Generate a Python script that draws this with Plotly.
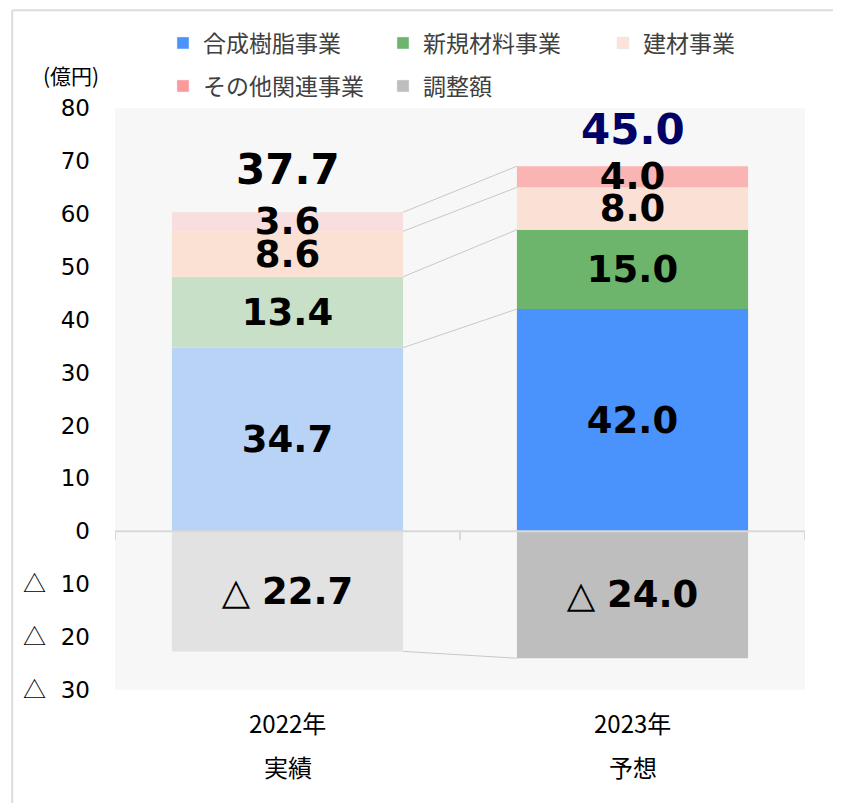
import plotly.graph_objects as go

# values (億円)
years = ["2022年", "2023年"]
periods = ["実績", "予想"]
resin = [34.7, 42.0]
new_materials = [13.4, 15.0]
building = [8.6, 8.0]
others = [3.6, 4.0]
adjustment = [-22.7, -24.0]
totals = [37.7, 45.0]

segments = [
    ("合成樹脂事業", resin, "#4a93fc", "legend"),
    ("新規材料事業", new_materials, "#6db56d", "legend"),
    ("建材事業", building, "#fae0d5", "legend"),
    ("その他関連事業", others, "#fbb4b4", "legend2"),
    ("調整額", adjustment, "#bebebe", "legend2"),
]
faded = {"#4a93fc": "#b9d3f7", "#6db56d": "#c8e0c8", "#fae0d5": "#fbe0d4",
         "#fbb4b4": "#f8dede", "#bebebe": "#e2e2e2"}
legend_colors = {"#fae0d5": "#fbe3da", "#fbb4b4": "#fe9999"}

BAR_W = 0.67
LABEL_FONT = dict(family="DejaVu Sans", size=37, color="black")
fig = go.Figure()

for name, vals, color, leg in segments:
    for i, v in enumerate(vals):
        if v < 0:
            label = f"△ <b>{abs(v):.1f}</b>"
        else:
            label = f"<b>{v:.1f}</b>"
        fig.add_trace(go.Bar(
            x=[i], y=[v], width=BAR_W, name=name, legendgroup=name,
            showlegend=False,
            marker=dict(color=faded[color] if i == 0 else color, line=dict(width=0)),
            text=[label], textposition="inside", insidetextanchor="middle",
            textangle=0, constraintext="none",
            insidetextfont=LABEL_FONT,
            hoverinfo="skip",
        ))
    # legend-only entry
    fig.add_trace(go.Bar(
        x=[None], y=[None], name=name, legendgroup=name, legend=leg,
        marker=dict(color=legend_colors.get(color, color)),
    ))

# connector lines between the stacks
cum0, cum1 = 0, 0
for name, vals, color, leg in segments[:-1]:
    cum0 += vals[0]
    cum1 += vals[1]
    fig.add_shape(type="line", x0=BAR_W / 2, x1=1 - BAR_W / 2, y0=cum0, y1=cum1,
                  line=dict(color="#c8c8c8", width=1))
fig.add_shape(type="line", x0=BAR_W / 2, x1=1 - BAR_W / 2, y0=adjustment[0], y1=adjustment[1],
              line=dict(color="#c8c8c8", width=1))

# zero axis line with ticks
fig.add_shape(type="line", xref="x", x0=-0.5, x1=1.5, y0=0, y1=0,
              line=dict(color="#d9d9d9", width=2))
for xt in [-0.5, 0.5, 1.5]:
    fig.add_shape(type="line", xref="x", yref="y", x0=xt, x1=xt, y0=0, y1=-1.7,
                  line=dict(color="#d9d9d9", width=2))

# outer frame (top and left)
fig.add_shape(type="line", xref="paper", yref="paper", x0=-0.149, x1=1.1, y0=1.168, y1=1.168,
              line=dict(color="#dcdcdc", width=2))
fig.add_shape(type="line", xref="paper", yref="paper", x0=-0.149, x1=-0.149, y0=1.168, y1=-0.25,
              line=dict(color="#dcdcdc", width=2))

# totals above the stacks
pos_top = [resin[i] + new_materials[i] + building[i] + others[i] for i in range(2)]
total_shift = [43, 37]
total_color = ["black", "#000066"]
for i, t in enumerate(totals):
    fig.add_annotation(x=i, y=pos_top[i], text=f"<b>{t:.1f}</b>", showarrow=False,
                       yanchor="middle", yshift=total_shift[i],
                       font=dict(family="DejaVu Sans", size=42, color=total_color[i]))

# category labels (two lines)
for i in range(2):
    fig.add_annotation(x=i, xref="x", y=-0.055, yref="paper", text=years[i], showarrow=False,
                       yanchor="middle", font=dict(family="Noto Sans CJK JP", size=24, color="black"))
    fig.add_annotation(x=i, xref="x", y=-0.132, yref="paper", text=periods[i], showarrow=False,
                       yanchor="middle", font=dict(family="Noto Sans CJK JP", size=24, color="black"))

fig.add_annotation(x=-0.064, xref="paper", y=1.057, yref="paper", text="(億円)", showarrow=False,
                   xanchor="center", yanchor="middle",
                   font=dict(family="Noto Sans CJK JP", size=21, color="black"))

tick_vals = [80, 70, 60, 50, 40, 30, 20, 10, 0, -10, -20, -30]
tri = "<span style=\"font-family:'Noto Sans CJK JP'\">△</span>"
tick_text = [str(v) if v >= 0 else f"{tri}  {abs(v)}" for v in tick_vals]

legend_font = dict(family="Noto Sans CJK JP", size=23, color="#404040")
fig.update_layout(
    width=841, height=803,
    margin=dict(l=107, r=44, t=100, b=121),
    barmode="relative",
    paper_bgcolor="white",
    plot_bgcolor="#f7f7f7",
    font=dict(family="Noto Sans CJK JP", color="black"),
    legend=dict(orientation="h", xref="container", yref="container",
                x=0.1843, xanchor="left", y=1 - 35 / 803, yanchor="middle",
                entrywidth=175, traceorder="normal", font=legend_font, itemwidth=30,
                bgcolor="rgba(0,0,0,0)"),
    legend2=dict(orientation="h", xref="container", yref="container",
                 x=0.1843, xanchor="left", y=1 - 78 / 803, yanchor="middle",
                 entrywidth=175, traceorder="normal", font=legend_font, itemwidth=30,
                 bgcolor="rgba(0,0,0,0)"),
    xaxis=dict(range=[-0.5, 1.5], showticklabels=False, showgrid=False,
               zeroline=False, showline=False, fixedrange=True, automargin=False),
    yaxis=dict(range=[-30, 80], tickvals=tick_vals, ticktext=tick_text,
               showgrid=False, zeroline=False, showline=False, automargin=False,
               tickfont=dict(family="DejaVu Sans", size=23, color="black"),
               ticklabelstandoff=24),
)

fig.write_html("out.html")
